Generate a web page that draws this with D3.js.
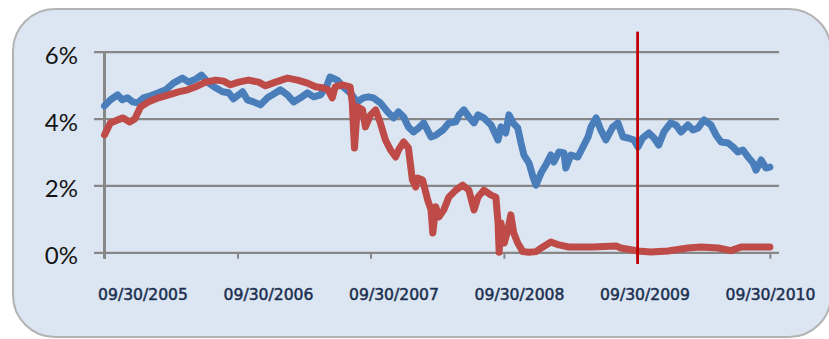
<!DOCTYPE html>
<html>
<head>
<meta charset="utf-8">
<script src="https://cdn.jsdelivr.net/npm/d3@7"></script>
<style>
  body { margin: 0; background: #fff; }
  svg { display: block; }
</style>
</head>
<body>
<svg id="chart" width="829" height="339"></svg>
<script>
// blue series (date, %)
var blueDates = ["2005-09-30","2005-10-16","2005-11-05","2005-11-18","2005-12-02","2005-12-16","2005-12-30",
  "2006-01-15","2006-02-03","2006-02-25","2006-03-17","2006-04-07","2006-05-02","2006-05-19","2006-06-07",
  "2006-06-23","2006-07-13","2006-08-01","2006-08-20","2006-09-06","2006-09-19","2006-10-14","2006-10-27",
  "2006-11-13","2006-12-02","2006-12-21","2007-01-04","2007-01-26","2007-02-14","2007-03-03","2007-03-22",
  "2007-04-10","2007-04-27","2007-05-16","2007-06-03","2007-06-11","2007-07-01","2007-07-17","2007-08-05",
  "2007-08-25","2007-09-10","2007-09-24","2007-10-08","2007-10-27","2007-11-16","2007-12-02","2007-12-16",
  "2007-12-30","2008-01-12","2008-01-26","2008-02-09","2008-02-23","2008-03-14","2008-03-27","2008-04-16",
  "2008-05-02","2008-05-21","2008-05-30","2008-06-12","2008-06-26","2008-07-10","2008-07-21","2008-08-06",
  "2008-08-26","2008-09-14","2008-09-22","2008-10-05","2008-10-14","2008-10-25","2008-11-07","2008-11-16",
  "2008-11-24","2008-12-08","2008-12-19","2008-12-27","2009-01-10","2009-01-23","2009-02-06","2009-02-14",
  "2009-02-28","2009-03-14","2009-03-19","2009-04-02","2009-04-21","2009-05-05","2009-05-19","2009-05-27",
  "2009-06-10","2009-06-23","2009-07-07","2009-07-26","2009-08-09","2009-08-23","2009-09-06","2009-09-22",
  "2009-10-03","2009-10-16","2009-11-02","2009-11-16","2009-11-29","2009-12-13","2010-01-01","2010-01-15",
  "2010-01-29","2010-02-17","2010-03-03","2010-03-17","2010-04-02","2010-04-21","2010-05-05","2010-05-19",
  "2010-06-07","2010-06-21","2010-07-04","2010-07-18","2010-08-01","2010-08-15","2010-08-23","2010-09-06",
  "2010-09-19","2010-09-30"];
var blueValues = [4.38,4.56,4.71,4.56,4.62,4.50,4.47,
  4.62,4.68,4.77,4.86,5.06,5.21,5.09,5.18,
  5.30,5.06,4.92,4.80,4.77,4.59,4.80,4.56,
  4.50,4.41,4.62,4.71,4.86,4.71,4.50,4.62,
  4.77,4.65,4.71,5.01,5.24,5.15,4.95,4.77,
  4.50,4.62,4.65,4.62,4.47,4.20,4.02,4.20,
  4.05,3.75,3.60,3.72,3.87,3.45,3.50,3.66,
  3.87,3.90,4.11,4.26,4.05,3.87,4.11,4.02,
  3.81,3.36,3.75,3.57,4.11,3.87,3.72,3.27,
  2.91,2.67,2.25,2.01,2.37,2.61,2.91,2.70,
  3.00,2.97,2.52,2.91,2.85,3.15,3.45,3.75,
  4.02,3.66,3.36,3.75,3.87,3.45,3.42,3.36,
  3.15,3.42,3.57,3.42,3.21,3.60,3.87,3.81,
  3.60,3.81,3.66,3.72,3.96,3.81,3.51,3.30,
  3.27,3.15,3.00,3.06,2.85,2.67,2.46,2.76,
  2.52,2.55];

// red series (date, %)
var redDates = ["2005-09-30","2005-10-16","2005-11-05","2005-11-20","2005-12-08","2005-12-22","2006-01-07",
  "2006-01-29","2006-02-25","2006-03-25","2006-04-21","2006-05-16","2006-06-07","2006-07-04","2006-08-01",
  "2006-08-23","2006-09-11","2006-10-03","2006-10-30","2006-11-27","2006-12-16","2007-01-12","2007-02-14",
  "2007-03-14","2007-04-10","2007-05-02","2007-05-21","2007-06-06","2007-06-17","2007-06-25","2007-07-14",
  "2007-08-05","2007-08-11","2007-08-14","2007-08-17","2007-08-25","2007-09-08","2007-09-16","2007-09-30",
  "2007-10-14","2007-10-27","2007-11-10","2007-11-24","2007-12-08","2007-12-16","2007-12-30","2008-01-12",
  "2008-01-23","2008-02-01","2008-02-06","2008-02-20","2008-03-05","2008-03-14","2008-03-19","2008-03-27",
  "2008-04-05","2008-04-18","2008-05-02","2008-05-21","2008-06-09","2008-06-26","2008-07-10","2008-07-21",
  "2008-08-06","2008-08-26","2008-09-08","2008-09-14","2008-09-17","2008-09-22","2008-10-01","2008-10-11",
  "2008-10-19","2008-10-27","2008-11-07","2008-11-21","2008-12-08","2008-12-27","2009-01-15","2009-02-06",
  "2009-02-28","2009-03-27","2009-04-24","2009-06-01","2009-08-04","2009-08-17","2009-10-03","2009-11-07",
  "2009-12-24","2010-02-17","2010-03-25","2010-05-11","2010-06-15","2010-07-13","2010-08-28","2010-09-30"];
var redValues = [3.51,3.87,3.96,4.02,3.90,3.99,4.35,
  4.50,4.62,4.71,4.80,4.86,4.95,5.09,5.15,
  5.12,5.01,5.09,5.15,5.09,4.98,5.09,5.21,
  5.15,5.06,4.95,4.92,4.86,4.62,4.95,5.01,
  4.95,4.47,3.75,3.12,4.35,4.26,3.75,4.11,
  4.26,3.87,3.36,3.06,2.85,3.06,3.30,3.12,
  2.16,1.95,2.22,2.16,1.56,1.27,0.58,1.36,
  1.06,1.27,1.65,1.86,2.01,1.86,1.27,1.65,
  1.86,1.71,1.65,0.88,0.00,0.88,0.28,0.67,
  1.12,0.58,0.28,0.02,0.00,0.02,0.16,0.31,
  0.22,0.16,0.16,0.16,0.19,0.13,0.04,0.01,
  0.04,0.13,0.16,0.13,0.05,0.16,0.16,0.16];

var yTicks = [0, 2, 4, 6];
var xTickDates = ["2005-09-30","2006-09-30","2007-09-30","2008-09-30","2009-09-30","2010-09-30"];
var xTickLabels = ["09/30/2005","09/30/2006","09/30/2007","09/30/2008","09/30/2009","09/30/2010"];
var markerDate = "2009-10-02";
var markerRange = [-0.35, 6.6];

var parse = d3.timeParse("%Y-%m-%d");
var svg = d3.select("#chart");

//panel background
svg.append("rect")
    .attr("x", 13).attr("y", 9)
    .attr("width", 818).attr("height", 328)
    .attr("rx", 42).attr("ry", 42)
    .attr("fill", "#dce6f2")
    .attr("stroke", "#b3b3b3")
    .attr("stroke-width", 2);

//scales
var x = d3.scaleTime()
    .domain([parse("2005-09-30"), parse("2010-10-25")])
    .range([104.5, 779]);
var y = d3.scaleLinear()
    .domain([0, 6])
    .range([252.3, 51.7]);
var xLabel = d3.scalePoint()
    .domain(xTickLabels)
    .range([143, 770.5]);

//gridlines + y labels
var yAxis = d3.axisLeft(y)
    .tickValues(yTicks)
    .tickSize(-(779 - 94))
    .tickPadding(0)
    .tickFormat(function(d) { return d + "%"; });
var gy = svg.append("g")
    .attr("transform", "translate(94,0)")
    .call(yAxis);
gy.select(".domain").remove();
gy.selectAll(".tick line")
    .attr("stroke", "#878787")
    .attr("stroke-width", 2.3);
gy.selectAll(".tick text")
    .attr("x", -16)
    .attr("dy", 11.5)
    .attr("fill", "#141414")
    .style("font-family", "Lato, 'Open Sans', sans-serif")
    .style("font-size", "24px");

//x axis ticks
var xAxis = d3.axisBottom(x)
    .tickValues(xTickDates.map(parse))
    .tickSize(6.5)
    .tickFormat("");
var gx = svg.append("g")
    .attr("transform", "translate(0,252.3)")
    .call(xAxis);
gx.select(".domain").remove();
gx.selectAll(".tick line")
    .attr("stroke", "#878787")
    .attr("stroke-width", 2);

//y axis line
svg.append("line")
    .attr("x1", x(parse("2005-09-30"))).attr("x2", x(parse("2005-09-30")))
    .attr("y1", y(6)).attr("y2", y(0) + 6.5)
    .attr("stroke", "#878787")
    .attr("stroke-width", 3);

//x labels
svg.append("g").selectAll("text")
    .data(xTickLabels)
    .enter().append("text")
    .attr("x", function(d) { return xLabel(d); })
    .attr("y", 299.5)
    .attr("text-anchor", "middle")
    .attr("fill", "#1b2f50")
    .attr("stroke", "#1b2f50")
    .attr("stroke-width", 0.5)
    .style("font-family", "'DejaVu Sans', Verdana, sans-serif")
    .style("font-size", "15.6px")
    .text(function(d) { return d; });

//series
var line = d3.line()
    .x(function(d) { return x(d.date); })
    .y(function(d) { return y(d.value); });

function series(dates, values) {
    return dates.map(function(d, i) { return {date: parse(d), value: values[i]}; });
}

svg.append("path")
    .datum(series(blueDates, blueValues))
    .attr("d", line)
    .attr("fill", "none")
    .attr("stroke", "#4a7ebb")
    .attr("stroke-width", 7)
    .attr("stroke-linejoin", "round")
    .attr("stroke-linecap", "round");

svg.append("path")
    .datum(series(redDates, redValues))
    .attr("d", line)
    .attr("fill", "none")
    .attr("stroke", "#be4b48")
    .attr("stroke-width", 7)
    .attr("stroke-linejoin", "round")
    .attr("stroke-linecap", "round");

//marker line
svg.append("line")
    .attr("x1", x(parse(markerDate))).attr("x2", x(parse(markerDate)))
    .attr("y1", y(markerRange[1])).attr("y2", y(markerRange[0]))
    .attr("stroke", "#c00000")
    .attr("stroke-width", 2.8);
</script>
</body>
</html>
